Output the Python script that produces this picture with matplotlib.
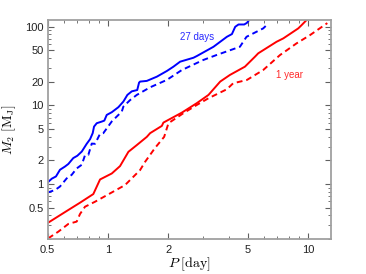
import numpy as np
import matplotlib
matplotlib.use("Agg")
import matplotlib.pyplot as plt
from matplotlib.ticker import NullFormatter, LogLocator

# 27 day baseline
p27_solid = [0.50, 0.524, 0.55, 0.576, 0.61, 0.634, 0.671, 0.703, 0.74, 0.783, 0.814, 0.839,
             0.852, 0.879, 0.931, 0.959, 0.986, 1.045, 1.127, 1.194, 1.25, 1.315, 1.40, 1.43,
             1.447, 1.563, 1.754, 1.968, 2.123, 2.293, 2.673, 2.78, 3.365, 3.926, 4.16, 4.32,
             4.487, 4.79, 4.94, 5.07]
m27_solid = [1.05, 1.17, 1.25, 1.52, 1.67, 1.80, 2.14, 2.29, 2.59, 3.25, 3.72, 4.44,
             5.38, 5.94, 6.23, 6.41, 7.57, 8.20, 9.49, 11.2, 13.6, 15.1, 15.7, 19.5,
             20.1, 20.5, 23.2, 27.4, 31.1, 36.0, 40.4, 42.5, 55.7, 74.6, 80.8, 100,
             107, 107, 112, 122]

p27_dash = [0.50, 0.544, 0.576, 0.622, 0.659, 0.698, 0.74, 0.768, 0.798, 0.83, 0.862, 0.913,
            0.948, 1.045, 1.172, 1.194, 1.29, 1.393, 1.624, 1.968, 2.339, 2.99, 3.48, 4.56,
            4.92, 5.96, 6.32]
m27_dash = [0.78, 0.84, 0.93, 1.18, 1.31, 1.58, 1.76, 2.33, 2.35, 3.27, 3.25, 4.35,
            4.44, 6.26, 8.34, 9.66, 11.7, 13.6, 17.0, 21.1, 28.2, 37.8, 43.7, 55.7,
            74.6, 95.4, 110]

# 1 year baseline
p1y_solid = [0.503, 0.634, 0.725, 0.845, 0.913, 1.045, 1.149, 1.265, 1.393, 1.563, 1.624,
             1.858, 1.892, 2.339, 2.78, 3.177, 3.635, 4.064, 4.83, 5.42, 5.63, 6.95, 7.51,
             8.92, 9.27, 9.82]
m1y_solid = [0.323, 0.468, 0.579, 0.746, 1.144, 1.363, 1.692, 2.57, 3.13, 3.98, 4.44,
             5.49, 6.05, 8.10, 10.7, 13.6, 20.1, 24.4, 31.1, 41.6, 46.0, 64.5, 71.2,
             95.4, 105, 122]

p1y_dash = [0.503, 0.565, 0.634, 0.698, 0.725, 0.768, 0.862, 1.024, 1.217, 1.447, 1.533,
            1.72, 1.908, 2.005, 2.38, 2.78, 3.177, 3.926, 4.22, 4.94, 5.96, 7.23, 8.75,
            10.21, 12.46]
m1y_dash = [0.204, 0.248, 0.311, 0.333, 0.416, 0.515, 0.596, 0.760, 0.971, 1.506, 1.919,
            2.89, 3.98, 5.94, 7.96, 10.15, 12.34, 16.06, 19.13, 21.07, 28.2, 43.7, 61.6,
            78.4, 111.4]

xticks = [0.5, 1, 2, 5, 10]
yticks = [0.5, 1, 2, 5, 10, 20, 50, 100]

plt.rcParams['font.family'] = ['Liberation Sans', 'DejaVu Sans']
plt.rcParams['mathtext.fontset'] = 'cm'

fig = plt.figure(figsize=(3.66, 2.74), dpi=100)
ax = fig.add_axes([0.1303, 0.1277, 0.7741, 0.7993])

lw = 1.4
ax.plot(p27_solid, m27_solid, color='blue', lw=lw)
ax.plot(p27_dash, m27_dash, color='blue', lw=lw, linestyle=(0, (3, 2)))
ax.plot(p1y_solid, m1y_solid, color='red', lw=lw)
ax.plot(p1y_dash, m1y_dash, color='red', lw=lw, linestyle=(0, (3, 2)))

ax.text(2.8, 75, '27 days', color='#2a2aff', fontsize=7, ha='center', va='center')
ax.text(8.05, 24.4, '1 year', color='#ff2a2a', fontsize=7, ha='center', va='center')

ax.set_xscale('log')
ax.set_yscale('log')
ax.set_xlim(0.5, 13)
ax.set_ylim(0.2, 122)

ax.set_xticks(xticks)
ax.set_xticklabels([str(t) for t in xticks])
ax.set_yticks(yticks)
ax.set_yticklabels([str(t) for t in yticks])
ax.xaxis.set_minor_locator(LogLocator(base=10, subs=np.arange(2, 10)))
ax.yaxis.set_minor_locator(LogLocator(base=10, subs=np.arange(2, 10)))
ax.xaxis.set_minor_formatter(NullFormatter())
ax.yaxis.set_minor_formatter(NullFormatter())

for s in ax.spines.values():
    s.set_color('#a0a0a0')
    s.set_linewidth(1.3)
ax.tick_params(which='both', direction='in', top=True, right=True, color='#606060',
               labelsize=8, labelcolor='#222222')
ax.tick_params(which='major', length=4, width=0.8)
ax.tick_params(axis='y', which='major', pad=3)
ax.tick_params(axis='x', which='major', pad=4)
ax.tick_params(which='minor', length=2.5, width=0.6)

ax.set_xlabel(r'$P\ [\mathrm{day}]$', fontsize=10, labelpad=1)
ax.set_ylabel(r'$M_2\ [\mathrm{M_J}]$', fontsize=10, labelpad=5)

fig.savefig('out.png', dpi=100)
